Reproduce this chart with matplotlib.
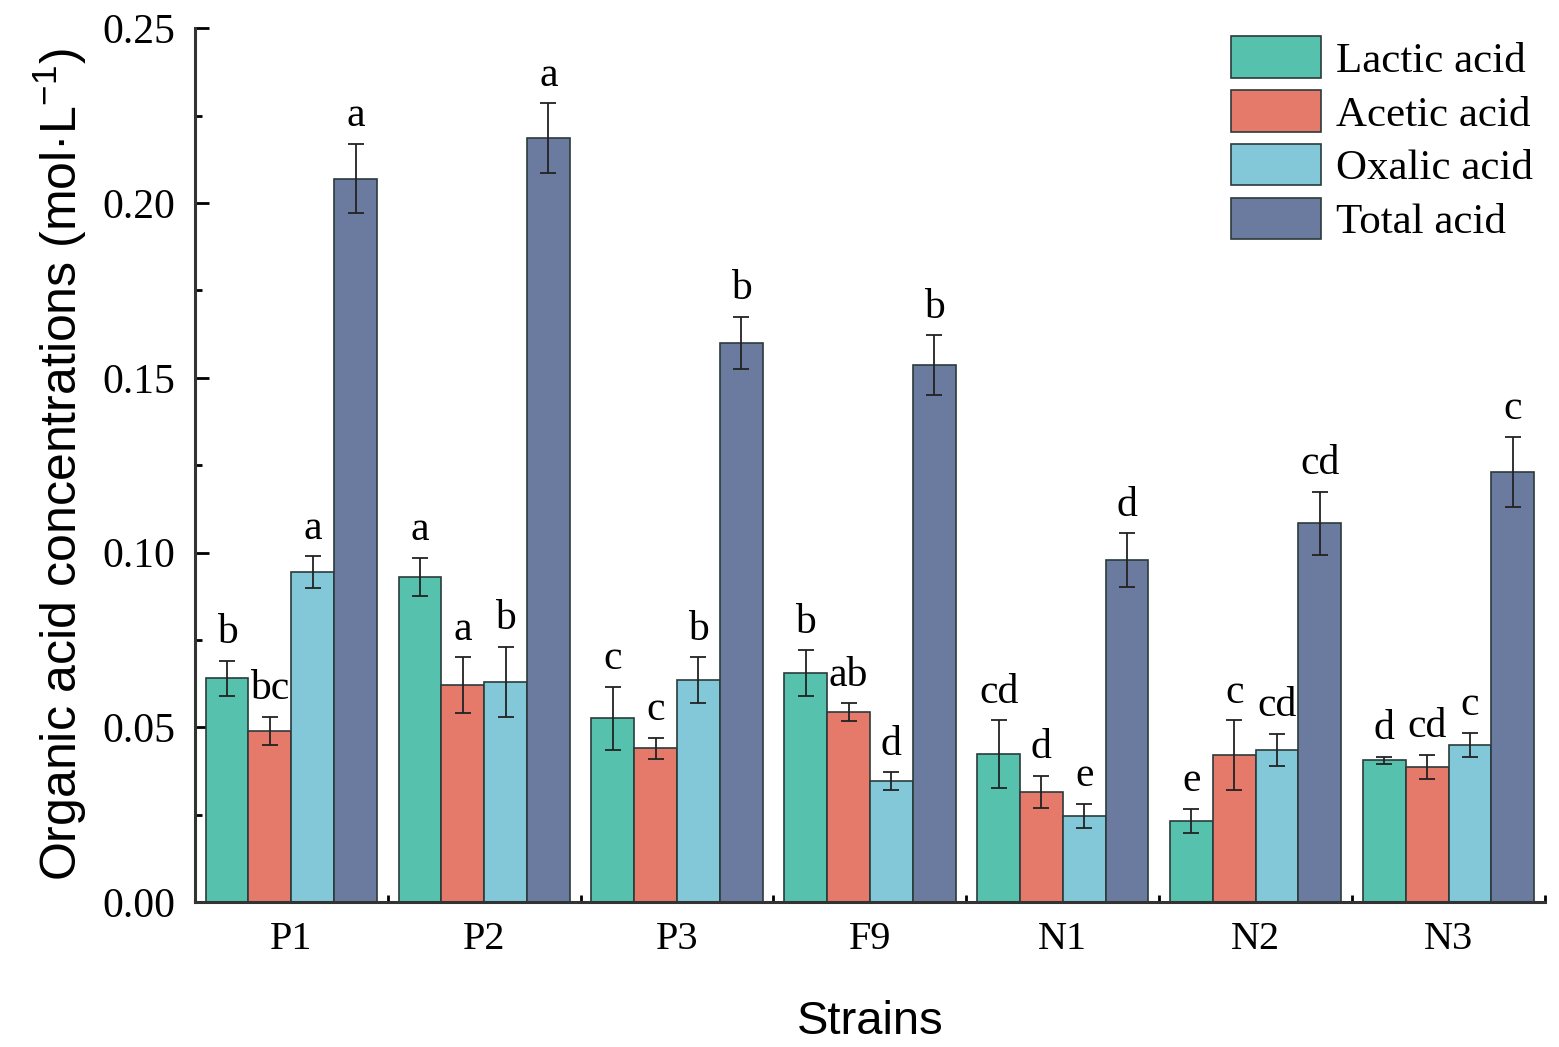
import matplotlib.pyplot as plt
import numpy as np
from matplotlib.ticker import MultipleLocator

# organic acid production per strain

strains = ["P1", "P2", "P3", "F9", "N1", "N2", "N3"]
acids = ["Lactic acid", "Acetic acid", "Oxalic acid", "Total acid"]
colors = ["#56C2AE", "#E57A6B", "#82C8D9", "#6B7B9F"]

lactic = [0.064, 0.093, 0.0526, 0.0655, 0.0423, 0.0232, 0.0406]
acetic = [0.049, 0.062, 0.044, 0.0543, 0.0315, 0.042, 0.0386]
oxalic = [0.0944, 0.063, 0.0635, 0.0346, 0.0246, 0.0435, 0.0449]
total = [0.207, 0.2185, 0.160, 0.1536, 0.0978, 0.1084, 0.123]

lactic_err = [0.005, 0.0055, 0.009, 0.0065, 0.0097, 0.0034, 0.001]
acetic_err = [0.004, 0.008, 0.003, 0.0025, 0.0045, 0.010, 0.0035]
oxalic_err = [0.0045, 0.010, 0.0065, 0.0025, 0.0035, 0.0045, 0.0035]
total_err = [0.010, 0.010, 0.0075, 0.0085, 0.0077, 0.009, 0.010]

lactic_sig = ["b", "a", "c", "b", "cd", "e", "d"]
acetic_sig = ["bc", "a", "c", "ab", "d", "c", "cd"]
oxalic_sig = ["a", "b", "b", "d", "e", "cd", "c"]
total_sig = ["a", "a", "b", "b", "d", "cd", "c"]

values = [lactic, acetic, oxalic, total]
errors = [lactic_err, acetic_err, oxalic_err, total_err]
sigs = [lactic_sig, acetic_sig, oxalic_sig, total_sig]

serif = "Liberation Serif"
sans = "Liberation Sans"

fig = plt.figure(figsize=(15.59, 10.47), dpi=100)
ax = fig.add_axes([0.125, 0.1385, 0.866, 0.8345])

x = np.arange(len(strains))
w = 0.222
for i in range(4):
    pos = x + (i - 1.5) * w
    ax.bar(pos, values[i], w, color=colors[i], edgecolor="#2b3b3b",
           linewidth=1.2, label=acids[i], zorder=2)
    ax.errorbar(pos, values[i], yerr=errors[i], fmt="none", ecolor="#222222",
                elinewidth=1.3, capsize=6, capthick=1.3, zorder=3)
    for p, v, e, s in zip(pos, values[i], errors[i], sigs[i]):
        ax.text(p, v + e + 0.0025, s, ha="center", va="bottom",
                fontsize=30, family=serif)

ax.set_xlim(-0.5, len(strains) - 0.5)
ax.set_ylim(0, 0.25)
ax.set_xticks(x)
ax.set_xticklabels(strains, family=serif, fontsize=29)
ax.set_xticks(np.arange(-0.5, len(strains)), minor=True)
ax.yaxis.set_minor_locator(MultipleLocator(0.025))
ax.set_yticks(np.arange(0, 0.26, 0.05))
ax.set_yticklabels(["%.2f" % t for t in np.arange(0, 0.26, 0.05)],
                   family=serif, fontsize=30)

ax.tick_params(which="major", direction="in", length=10, width=2, pad=14)
ax.tick_params(which="minor", direction="in", length=5, width=2)
ax.spines["top"].set_visible(False)
ax.spines["right"].set_visible(False)
ax.spines["left"].set_linewidth(2.2)
ax.spines["bottom"].set_linewidth(2.2)
ax.spines["left"].set_color("#333333")
ax.spines["bottom"].set_color("#333333")

ax.set_xlabel("Strains", family=sans, fontsize=34, labelpad=30)
ax.set_ylabel(r"Organic acid concentrations (mol·L$^{\mathregular{-1}}$)",
              family=sans, fontsize=36, labelpad=10)

ax.legend(loc="upper right", frameon=False, prop={"family": serif, "size": 31},
          handlelength=2.1, handleheight=1.1, handletextpad=0.35,
          labelspacing=0.22, bbox_to_anchor=(1.02, 1.035))

plt.savefig("out.png", dpi=100)
